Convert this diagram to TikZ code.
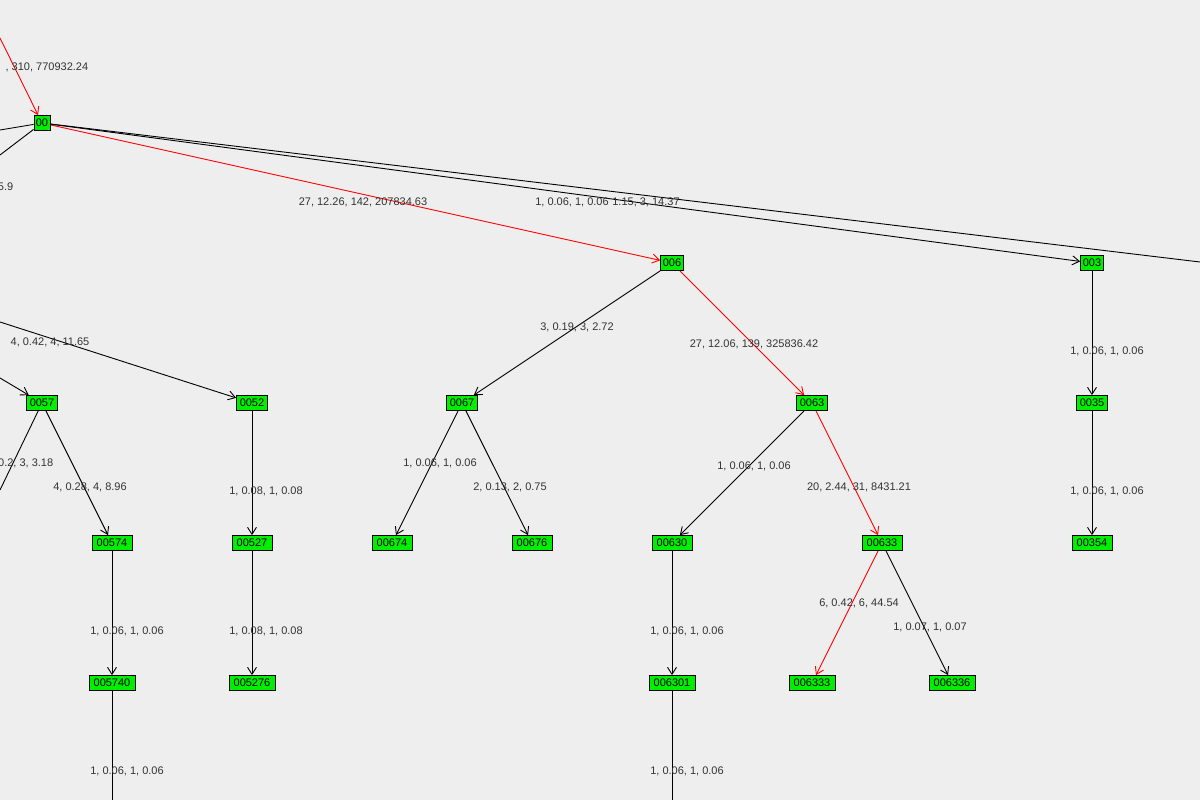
\documentclass[tikz,border=0pt]{standalone}
\usepackage{fontspec}
\setmainfont{Liberation Sans}
\usetikzlibrary{arrows.meta}
\begin{document}
\begin{tikzpicture}[x=1pt,y=-1pt,line width=0.9pt,
 nd/.style={draw=black,line width=0.8pt,fill={rgb,255:red,0;green,238;blue,0},inner sep=0pt,minimum height=15pt,text width=40pt,align=center,font=\fontsize{11}{12}\selectfont},
 e/.style={draw=black,-{Straight Barb[length=7pt,width=9pt]}},
 r/.style={draw=red,-{Straight Barb[length=7pt,width=9pt]}},
 lb/.style={font=\fontsize{11}{12}\selectfont,text=black!80}]
\fill[fill={rgb,255:red,238;green,238;blue,238}] (0,0) rectangle (1200,800);
\useasboundingbox (0,0) rectangle (1200,800);
\node[nd,text width=16pt] (n00) at (42,123) {00};
\node[nd,text width=23pt] (n006) at (672,263) {006};
\node[nd,text width=23pt] (n003) at (1092,263) {003};
\node[nd,text width=31pt] (n0057) at (42,403) {0057};
\node[nd,text width=31pt] (n0052) at (252,403) {0052};
\node[nd,text width=31pt] (n0067) at (462,403) {0067};
\node[nd,text width=31pt] (n0063) at (812,403) {0063};
\node[nd,text width=31pt] (n0035) at (1092,403) {0035};
\node[nd] (n00574) at (112,543) {00574};
\node[nd] (n00527) at (252,543) {00527};
\node[nd] (n00674) at (392,543) {00674};
\node[nd] (n00676) at (532,543) {00676};
\node[nd] (n00630) at (672,543) {00630};
\node[nd] (n00633) at (882,543) {00633};
\node[nd] (n00354) at (1092,543) {00354};
\node[nd,text width=46pt] (n005740) at (112,683) {005740};
\node[nd,text width=46pt] (n005276) at (252,683) {005276};
\node[nd,text width=46pt] (n006301) at (672,683) {006301};
\node[nd,text width=46pt] (n006333) at (812,683) {006333};
\node[nd,text width=46pt] (n006336) at (952,683) {006336};
\coordinate (a) at (0,38);
\coordinate (b) at (0,130);
\coordinate (c) at (0,155);
\coordinate (d) at (1200,262);
\coordinate (f) at (0,322);
\coordinate (g) at (0,378);
\coordinate (h) at (0,490);
\coordinate (i) at (112,800);
\coordinate (j) at (672,800);
\draw[r] (a) -- (n00);
\draw (n00) -- (b);
\draw (n00) -- (c);
\draw[r] (n00) -- (n006);
\draw[e] (n00) -- (n003);
\draw (n00) -- (d);
\draw[e] (f) -- (n0052);
\draw[e] (g) -- (n0057);
\draw (n0057) -- (h);
\draw[e] (n0057) -- (n00574);
\draw[e] (n0052) -- (n00527);
\draw[e] (n00527) -- (n005276);
\draw[e] (n00574) -- (n005740);
\draw (n005740) -- (i);
\draw[e] (n006) -- (n0067);
\draw[r] (n006) -- (n0063);
\draw[e] (n0067) -- (n00674);
\draw[e] (n0067) -- (n00676);
\draw[e] (n0063) -- (n00630);
\draw[r] (n0063) -- (n00633);
\draw[e] (n00630) -- (n006301);
\draw (n006301) -- (j);
\draw[r] (n00633) -- (n006333);
\draw[e] (n00633) -- (n006336);
\draw[e] (n003) -- (n0035);
\draw[e] (n0035) -- (n00354);
\node[lb,anchor=east] at (92,67) {, 310, 770932.24};
\node[lb,anchor=east] at (17,187) {5.9};
\node[lb] at (363,202) {27, 12.26, 142, 207834.63};
\node[lb] at (572,202) {1, 0.06, 1, 0.06};
\node[lb] at (646,202) {1.15, 3, 14.37};
\node[lb] at (50,342) {4, 0.42, 4, 11.65};
\node[lb,anchor=east] at (57,463) {0.2, 3, 3.18};
\node[lb] at (90,487) {4, 0.28, 4, 8.96};
\node[lb] at (266,491) {1, 0.08, 1, 0.08};
\node[lb] at (266,631) {1, 0.08, 1, 0.08};
\node[lb] at (127,631) {1, 0.06, 1, 0.06};
\node[lb] at (127,771) {1, 0.06, 1, 0.06};
\node[lb] at (577,327) {3, 0.19, 3, 2.72};
\node[lb] at (754,344) {27, 12.06, 139, 325836.42};
\node[lb] at (440,463) {1, 0.06, 1, 0.06};
\node[lb] at (510,487) {2, 0.13, 2, 0.75};
\node[lb] at (754,466) {1, 0.06, 1, 0.06};
\node[lb] at (859,487) {20, 2.44, 31, 8431.21};
\node[lb] at (687,631) {1, 0.06, 1, 0.06};
\node[lb] at (687,771) {1, 0.06, 1, 0.06};
\node[lb] at (859,603) {6, 0.42, 6, 44.54};
\node[lb] at (930,627) {1, 0.07, 1, 0.07};
\node[lb] at (1107,351) {1, 0.06, 1, 0.06};
\node[lb] at (1107,491) {1, 0.06, 1, 0.06};
\end{tikzpicture}
\end{document}
